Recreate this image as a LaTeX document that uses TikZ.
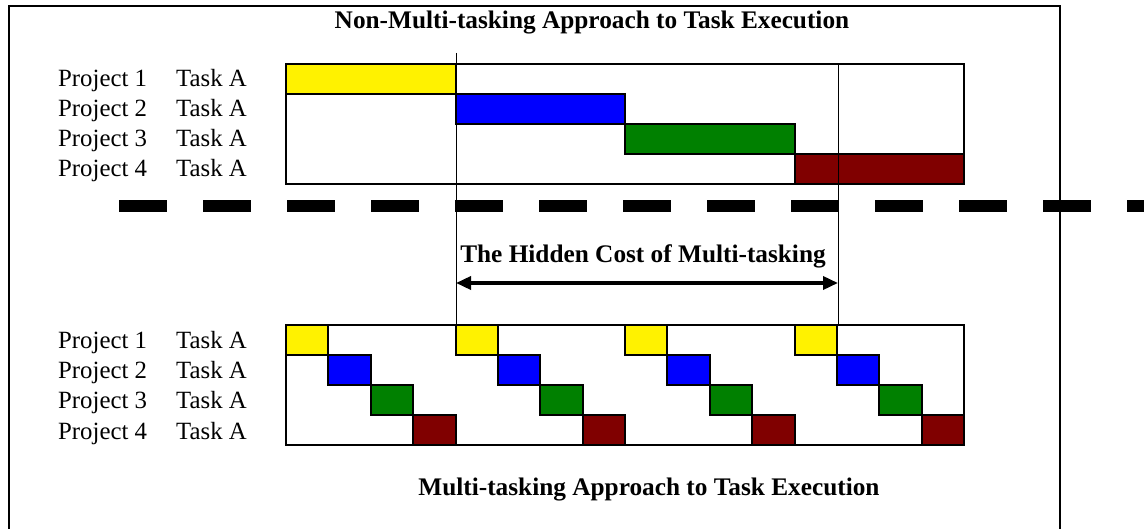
\documentclass[tikz,border=0pt]{standalone}
\usepackage{fontspec}
\setmainfont{Liberation Serif}
\usetikzlibrary{arrows.meta}
\definecolor{barmaroon}{RGB}{128,0,0}
\definecolor{bargreen}{RGB}{0,128,0}
\tikzset{
  frameline/.style={line width=2.2pt},
  chartbox/.style={draw, line width=2pt},
  bar/.style={draw, line width=2pt},
  marker/.style={line width=1pt},
  rowlabel/.style={anchor=base west, inner sep=0pt, font=\fontsize{24.8}{25}\selectfont},
  heading/.style={inner sep=0pt, font=\bfseries\fontsize{25.3}{26}\selectfont},
}
\begin{document}
\begin{tikzpicture}[x=1pt, y=-1pt]
    \useasboundingbox (0,0) rectangle (1144,529);
    % frame, open at the bottom
    \draw[frameline] (9,529) -- (9,6) -- (1060,6) -- (1060,529);

    \node[heading] (top title) at (592,23) {Non-Multi-tasking Approach to Task Execution};
    \node[heading] (cost title) at (643,256) {The Hidden Cost of Multi-tasking};
    \node[heading] (bottom title) at (649,490) {Multi-tasking Approach to Task Execution};

    % row labels
    \foreach \r in {1,...,4} {
        \node[rowlabel] (top project \r) at (58, {64+30*(\r-1)+23}) {Project \r};
        \node[rowlabel] (top task \r) at (176, {64+30*(\r-1)+23}) {Task A};
        \node[rowlabel] (low project \r) at (58, {325+30*(\r-1)+24}) {Project \r};
        \node[rowlabel] (low task \r) at (176, {325+30*(\r-1)+24}) {Task A};
    }

    % one task after the other
    \foreach \i/\c in {0/yellow, 1/blue, 2/bargreen, 3/barmaroon}
        \filldraw[bar, fill=\c] ({286+169.5*\i}, {64+30*\i}) rectangle +(169.5,30);
    \draw[chartbox] (286,64) rectangle (964,184);

    % switching between tasks
    \foreach \g in {0,...,3}
        \foreach \i/\c in {0/yellow, 1/blue, 2/bargreen, 3/barmaroon}
            \filldraw[bar, fill=\c] ({286+169.5*\g+42.375*\i}, {325+30*\i}) rectangle +(42.375,30);
    \draw[chartbox] (286,325) rectangle (964,445);

    % separator
    \draw[line width=12pt, dash pattern=on 48pt off 36pt] (119,206) -- (1144,206);

    \coordinate (first end top) at (456,53);
    \coordinate (first end low) at (456,325);
    \coordinate (last end top) at (838,64);
    \coordinate (last end low) at (838,325);
    \draw[marker] (first end top) -- (first end low);
    \draw[marker] (last end top) -- (last end low);

    \coordinate (cost left) at (456,283);
    \coordinate (cost right) at (838,283);
    \draw[line width=3.5pt, {Triangle[length=15pt, width=13pt]}-{Triangle[length=15pt, width=13pt]}] (cost left) -- (cost right);
\end{tikzpicture}
\end{document}
